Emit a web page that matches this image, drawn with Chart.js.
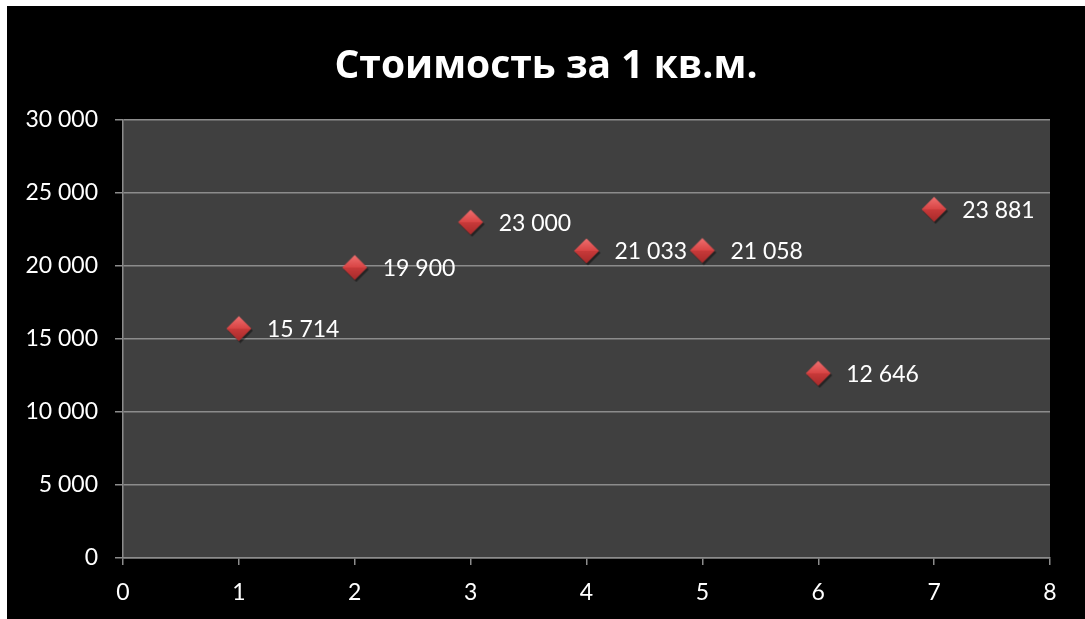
<!DOCTYPE html>
<html>
<head>
<meta charset="utf-8">
<script src="https://cdn.jsdelivr.net/npm/chart.js@4/dist/chart.umd.min.js"></script>
<style>
  html, body { margin: 0; padding: 0; background: #fff; }
  #wrap { position: absolute; left: 7px; top: 6px; width: 1078px; height: 613px; background: #000; }
</style>
</head>
<body>
<div id="wrap"><canvas id="costChart"></canvas></div>
<script>
// Стоимость за 1 кв.м. по объектам
var objectNumbers = [1, 2, 3, 4, 5, 6, 7];
var costPerSqm = [15714, 19900, 23000, 21033, 21058, 12646, 23881];
var chartTitle = 'Стоимость за 1 кв.м.';

function fmt(v) {
    return v.toString().replace(/\B(?=(\d{3})+(?!\d))/g, ' ');
}

// diamond marker with a little bevel
var marker = document.createElement('canvas');
marker.width = 30; marker.height = 30;
(function () {
    var m = marker.getContext('2d');
    var c = 15, r = 12.5;
    m.fillStyle = 'rgba(0,0,0,0.45)';
    m.beginPath();
    m.moveTo(c + 1.5, c - r + 2); m.lineTo(c + r + 1.5, c + 2); m.lineTo(c + 1.5, c + r + 2); m.lineTo(c - r + 1.5, c + 2);
    m.closePath(); m.fill();
    var g = m.createLinearGradient(0, c - r, 0, c);
    g.addColorStop(0, '#f07070'); g.addColorStop(1, '#d84444');
    m.fillStyle = g;
    m.beginPath(); m.moveTo(c, c - r); m.lineTo(c + r, c); m.lineTo(c - r, c); m.closePath(); m.fill();
    var g2 = m.createLinearGradient(0, c, 0, c + r);
    g2.addColorStop(0, '#c83a3a'); g2.addColorStop(1, '#a82a2a');
    m.fillStyle = g2;
    m.beginPath(); m.moveTo(c - r, c); m.lineTo(c + r, c); m.lineTo(c, c + r); m.closePath(); m.fill();
})();

var plotBg = {
    id: 'plotBg',
    beforeDraw: function (chart) {
        var a = chart.chartArea, ctx = chart.ctx;
        ctx.save();
        ctx.fillStyle = '#404040';
        ctx.fillRect(a.left, a.top, a.right - a.left, a.bottom - a.top);
        ctx.restore();
    }
};

// title centred on the whole canvas
var centredTitle = {
    id: 'centredTitle',
    afterDraw: function (chart) {
        var ctx = chart.ctx;
        ctx.save();
        ctx.fillStyle = '#ffffff';
        ctx.font = 'bold 39px "Open Sans", sans-serif';
        ctx.textAlign = 'center';
        ctx.textBaseline = 'middle';
        ctx.fillText(chartTitle, chart.width / 2, 61);
        ctx.restore();
    }
};

var valueLabels = {
    id: 'valueLabels',
    afterDatasetsDraw: function (chart) {
        var ctx = chart.ctx;
        ctx.save();
        ctx.fillStyle = '#ffffff';
        ctx.font = '23px Lato, "Open Sans", sans-serif';
        ctx.textAlign = 'left';
        ctx.textBaseline = 'middle';
        chart.getDatasetMeta(0).data.forEach(function (pt, i) {
            ctx.fillText(fmt(costPerSqm[i]), pt.x + 28, pt.y + 1);
        });
        ctx.restore();
    }
};

var ctx = document.getElementById('costChart').getContext('2d');
var costChart = new Chart(ctx, {
    type: 'scatter',
    data: {
        datasets: [{
            label: chartTitle,
            data: objectNumbers.map(function (n, i) { return { x: n, y: costPerSqm[i] }; }),
            pointStyle: marker,
            pointRadius: 13,
            pointHoverRadius: 13
        }]
    },
    options: {
        responsive: true,
        maintainAspectRatio: false,
        animation: false,
        layout: { padding: { left: 0, right: 35, top: 114, bottom: 0 } },
        plugins: {
            legend: { display: false },
            tooltip: { enabled: false },
            title: { display: false }
        },
        scales: {
            x: {
                type: 'linear',
                min: 0,
                max: 8,
                ticks: { stepSize: 1, color: '#ffffff', padding: 14, font: { family: 'Lato, "Open Sans", sans-serif', size: 23 } },
                grid: { drawOnChartArea: false, drawTicks: true, tickLength: 7, color: '#8c8c8c', lineWidth: 1.5 },
                border: { display: true, color: '#8c8c8c', width: 1.5 },
                afterFit: function (s) { s.height = 61; }
            },
            y: {
                min: 0,
                max: 30000,
                ticks: {
                    stepSize: 5000,
                    color: '#ffffff',
                    padding: 17,
                    font: { family: 'Lato, "Open Sans", sans-serif', size: 23 },
                    callback: function (v) { return fmt(v); }
                },
                grid: { drawOnChartArea: true, tickLength: 8, color: '#8c8c8c', lineWidth: 1.5 },
                border: { display: true, color: '#8c8c8c', width: 1.5 },
                afterFit: function (s) { s.width = 116; }
            }
        }
    },
    plugins: [plotBg, valueLabels, centredTitle]
});
</script>
</body>
</html>
